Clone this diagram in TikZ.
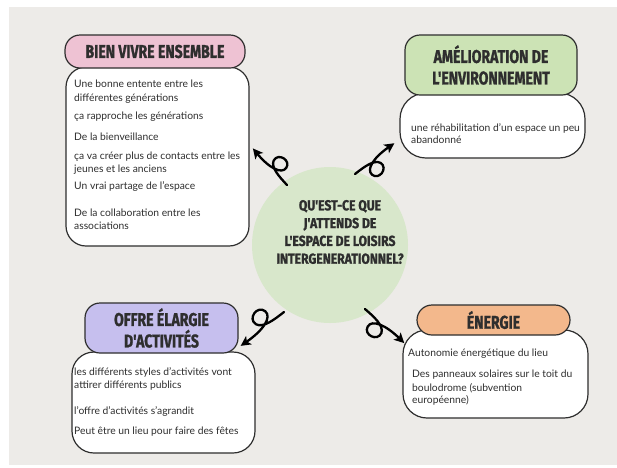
\documentclass[tikz,border=0pt]{standalone}
\usepackage{fontspec}
\setmainfont{Lato}
\newfontfamily\headfont[FakeStretch=0.76,FakeBold=1.2]{Fira Sans}
\newfontfamily\circfont[FakeStretch=0.84,FakeBold=1.2]{Fira Sans}
\usetikzlibrary{arrows.meta}
\definecolor{bggray}{HTML}{EDEBE8}
\definecolor{ink}{HTML}{2E2E2E}
\definecolor{pinkt}{HTML}{EEC2D3}
\definecolor{greent}{HTML}{CCE3B5}
\definecolor{purplet}{HTML}{C6BFEE}
\definecolor{oranget}{HTML}{F3B88C}
\definecolor{circ}{HTML}{D8E7CB}
\tikzset{
  bodybox/.style={draw=ink, line width=1.2pt, fill=white, inner sep=0pt},
  titlebox/.style={draw=ink, line width=1.2pt, inner sep=0pt, rounded corners=15pt,
    align=center, text=ink, font=\headfont\bfseries\fontsize{18.5}{21.5}\selectfont},
  txt/.style={anchor=base west, inner sep=0pt, text=ink, font=\fontsize{10.3}{11}\selectfont},
  arr/.style={draw=black, line width=2.3pt, line cap=round,
    -{Stealth[length=10pt,width=10pt,inset=2.5pt]}}
}
\newcommand\curlyarrow[3]{%
  \begin{scope}[shift={(#1)}, rotate=#2]
    \draw[arr] (0,0) .. controls (0.22*#3,0) and (0.48*#3,0) .. (0.54*#3,0.14*#3)
      .. controls (0.6*#3,0.32*#3) and (0.3*#3,0.4*#3) .. (0.26*#3,0.22*#3)
      .. controls (0.23*#3,0.06*#3) and (0.5*#3,-0.03*#3) .. (#3,0);
  \end{scope}}
\begin{document}
\begin{tikzpicture}[x=1pt,y=-1pt]
\useasboundingbox (0,0) rectangle (617,467);
\fill[bggray] (9,7) rectangle (617,465);

% centre
\fill[circ] (330,245) circle (78);
\node[inner sep=0pt, align=center, text=ink,
  font=\circfont\bfseries\fontsize{14.5}{17.8}\selectfont] (q) at (340,232)
  {QU'EST-CE QUE\\J'ATTENDS DE\\L'ESPACE DE LOISIRS\\INTERGENERATIONNEL?};

% arrows
\coordinate (a1) at (287,185);
\coordinate (a2) at (355,174);
\coordinate (a3) at (284,312);
\coordinate (a4) at (365,309);
\curlyarrow{a1}{133}{50}
\curlyarrow{a2}{38}{50}
\curlyarrow{a3}{218}{55}
\curlyarrow{a4}{-41}{52}

% box 1
\node[bodybox, rounded corners=20pt, minimum width=183pt, minimum height=179pt] (b1) at (157.5,156.5) {};
\node[titlebox, fill=pinkt, minimum width=180pt, minimum height=33pt] (t1) at (155,51.5) {BIEN VIVRE ENSEMBLE};
\node[txt] (l11) at (74,87) {Une bonne entente entre les};
\node[txt] (l12) at (74,101) {différentes générations};
\node[txt] (l13) at (74,119) {ça rapproche les générations};
\node[txt] (l14) at (74,140) {De la bienveillance};
\node[txt] (l15) at (74,159) {ça va créer plus de contacts entre les};
\node[txt] (l16) at (74,172) {jeunes et les anciens};
\node[txt] (l17) at (74,189) {Un vrai partage de l'espace};
\node[txt] (l18) at (74,216) {De la collaboration entre les};
\node[txt] (l19) at (74,229) {associations};

% box 2
\node[bodybox, rounded corners=26pt, minimum width=185pt, minimum height=65pt] (b2) at (492.5,125.5) {};
\node[titlebox, fill=greent, minimum width=172pt, minimum height=60pt] (t2) at (491,65) {AMÉLIORATION DE\\L'ENVIRONNEMENT};
\node[txt] (l21) at (411,131) {une réhabilitation d'un espace un peu};
\node[txt] (l22) at (411,143) {abandonné};

% box 3
\node[bodybox, rounded corners=22pt, minimum width=183pt, minimum height=101pt] (b3) at (163.5,402.5) {};
\node[titlebox, fill=purplet, minimum width=153pt, minimum height=50pt] (t3) at (161.5,328) {OFFRE ÉLARGIE\\D'ACTIVITÉS};
\node[txt] (l31) at (74,375) {les différents styles d'activités vont};
\node[txt] (l32) at (74,388) {attirer différents publics};
\node[txt] (l33) at (74,414) {l'offre d'activités s'agrandit};
\node[txt] (l34) at (74,434) {Peut être un lieu pour faire des fêtes};

% box 4
\node[bodybox, rounded corners=24pt, minimum width=185pt, minimum height=88pt] (b4) at (495.5,374) {};
\node[titlebox, fill=oranget, minimum width=153pt, minimum height=30pt] (t4) at (493.5,320) {ÉNERGIE};
\node[txt] (l41) at (408,356) {Autonomie énergétique du lieu};
\node[txt] (l42) at (412,377) {Des panneaux solaires sur le toit du};
\node[txt] (l43) at (412,391) {boulodrome (subvention};
\node[txt] (l44) at (412,403) {européenne)};
\end{tikzpicture}
\end{document}
